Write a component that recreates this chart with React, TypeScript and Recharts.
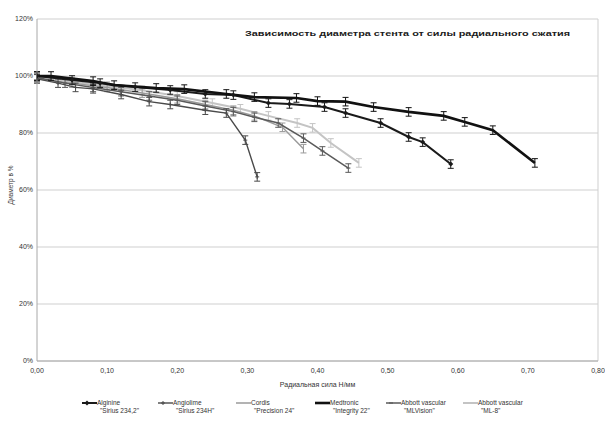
import React from 'react';
import { LineChart, Line, XAxis, YAxis, CartesianGrid, ErrorBar, Legend, ReferenceLine, Customized, Label } from 'recharts';

const chartTitle = 'Зависимость диаметра стента от силы радиального сжатия';
const xAxisTitle = 'Радиальная сила Н/мм';
const yAxisTitle = 'Диаметр в %';

const xTicks = [0, 0.1, 0.2, 0.3, 0.4, 0.5, 0.6, 0.7, 0.8];
const yTicks = [0, 20, 40, 60, 80, 100, 120];

const alginineX = [0, 0.05, 0.09, 0.14, 0.19, 0.24, 0.28, 0.33, 0.36, 0.41, 0.44, 0.49, 0.53, 0.55, 0.59];
const alginineY = [100, 98.6, 97.5, 96.1, 95.1, 93.7, 93.3, 90.5, 90.2, 89.1, 87, 83.5, 78.6, 76.8, 69.1];
const alginineErr = [1.5, 1.5, 1.5, 1.5, 1.5, 1.5, 1.5, 1.5, 1.5, 1.5, 1.5, 1.5, 1.5, 1.5, 1.5];

const angiolimeX = [0, 0.03, 0.055, 0.08, 0.12, 0.16, 0.19, 0.24, 0.27, 0.297, 0.314];
const angiolimeY = [99, 97.5, 96, 95.5, 93.5, 91, 90, 88, 87, 77.5, 64.6];
const angiolimeErr = [1.5, 1.5, 1.5, 1.5, 1.5, 1.5, 1.5, 1.5, 1.5, 1.5, 1.5];

const cordisX = [0, 0.05, 0.1, 0.15, 0.2, 0.24, 0.28, 0.31, 0.35, 0.38];
const cordisY = [99, 97.5, 96, 94, 92, 90, 88, 86, 82, 74.5];
const cordisErr = [1.5, 1.5, 1.5, 1.5, 1.5, 1.5, 1.5, 1.5, 1.5, 1.5];

const medtronicX = [0, 0.02, 0.08, 0.11, 0.17, 0.21, 0.27, 0.31, 0.37, 0.4, 0.44, 0.48, 0.53, 0.58, 0.61, 0.65, 0.71];
const medtronicY = [100, 100, 98.2, 96.8, 95.8, 95.4, 93.7, 92.6, 92.3, 91.2, 91, 89.1, 87.4, 86, 83.9, 81, 69.5];
const medtronicErr = [1.5, 1.5, 1.5, 1.5, 1.5, 1.5, 1.5, 1.5, 1.5, 1.5, 1.5, 1.5, 1.5, 1.5, 1.5, 1.5, 1.5];

const mlVisionX = [0, 0.04, 0.08, 0.12, 0.16, 0.2, 0.24, 0.28, 0.31, 0.344, 0.38, 0.407, 0.444];
const mlVisionY = [99.5, 97.5, 96, 94.5, 93, 91.5, 89.5, 87.5, 85.5, 83.5, 78.2, 73.7, 67.7];
const mlVisionErr = [1.5, 1.5, 1.5, 1.5, 1.5, 1.5, 1.5, 1.5, 1.5, 1.5, 1.5, 1.5, 1.5];

const ml8X = [0, 0.05, 0.1, 0.15, 0.2, 0.25, 0.29, 0.33, 0.371, 0.393, 0.419, 0.459];
const ml8Y = [100, 98, 96.5, 95, 93, 90.5, 88.5, 86, 83.5, 81.8, 76.5, 69.5];
const ml8Err = [1.5, 1.5, 1.5, 1.5, 1.5, 1.5, 1.5, 1.5, 1.5, 1.5, 1.5, 1.5];

const build = (xs: number[], ys: number[], es: number[]) => xs.map((x, i) => ({ x, y: ys[i], err: es[i] }));

type Series = { key: string; l1: string; l2: string; data: any[]; stroke: string; width: number; marker: 'diamond' | 'plus' | 'dash' | 'none' };

const series: Series[] = [
  { key: 'ml8', l1: 'Abbott vascular', l2: '"ML-8"', data: build(ml8X, ml8Y, ml8Err), stroke: '#c4c4c4', width: 2, marker: 'none' },
  { key: 'cordis', l1: 'Cordis', l2: '"Precision 24"', data: build(cordisX, cordisY, cordisErr), stroke: '#9a9a9a', width: 1.5, marker: 'none' },
  { key: 'mlvision', l1: 'Abbott vascular', l2: '"MLVision"', data: build(mlVisionX, mlVisionY, mlVisionErr), stroke: '#5a5a5a', width: 1.5, marker: 'dash' },
  { key: 'angiolime', l1: 'Angiolime', l2: '"Sirius 234H"', data: build(angiolimeX, angiolimeY, angiolimeErr), stroke: '#4a4a4a', width: 1.4, marker: 'plus' },
  { key: 'alginine', l1: 'Alginine', l2: '"Sirius 234,2"', data: build(alginineX, alginineY, alginineErr), stroke: '#1a1a1a', width: 2, marker: 'diamond' },
  { key: 'medtronic', l1: 'Medtronic', l2: '"Integrity 22"', data: build(medtronicX, medtronicY, medtronicErr), stroke: '#111111', width: 2.6, marker: 'none' },
];

const legendOrder = ['alginine', 'angiolime', 'cordis', 'medtronic', 'mlvision', 'ml8'];
const legendLeft = [82, 158, 236, 315, 386, 463];

const MarkerShape = ({ cx, cy, marker, color }: { cx: number; cy: number; marker: string; color: string }) => {
  if (marker === 'diamond') {
    return <path d={`M${cx},${cy - 2.5}L${cx + 2.5},${cy}L${cx},${cy + 2.5}L${cx - 2.5},${cy}Z`} fill={color} stroke="none" />;
  }
  if (marker === 'plus') {
    return <path d={`M${cx - 2},${cy}H${cx + 2}M${cx},${cy - 2}V${cy + 2}`} stroke={color} strokeWidth={1} fill="none" />;
  }
  if (marker === 'dash') {
    return <path d={`M${cx - 2},${cy}H${cx + 2}`} stroke={color} strokeWidth={1.2} fill="none" />;
  }
  return null;
};

const makeDot = (s: Series) => (props: any) => {
  const { cx, cy, index } = props;
  if (s.marker === 'none' || cx == null || cy == null) return <g key={`${s.key}-d-${index}`} />;
  return <g key={`${s.key}-d-${index}`}><MarkerShape cx={cx} cy={cy} marker={s.marker} color={s.stroke} /></g>;
};

const renderLegend = () => (
  <div style={{ position: 'relative', width: 605, height: 20, fontFamily: '"Liberation Sans", Arial, sans-serif' }}>
    {legendOrder.map((k, i) => {
      const s = series.find((q) => q.key === k)!;
      return (
        <div key={k} style={{ position: 'absolute', left: legendLeft[i], top: 0, display: 'flex', alignItems: 'flex-start' }}>
          <svg width={15} height={8} style={{ display: 'block', marginTop: 0 }}>
            <line x1={0} y1={4} x2={15} y2={4} stroke={s.stroke} strokeWidth={s.width} />
            <MarkerShape cx={5} cy={4} marker={s.marker} color={s.stroke} />
          </svg>
          <div style={{ fontSize: 6.5, lineHeight: '7.5px', color: '#333', whiteSpace: 'nowrap' }}>
            <div>{s.l1}</div>
            <div style={{ paddingLeft: 3 }}>{s.l2}</div>
          </div>
        </div>
      );
    })}
  </div>
);

const Title = () => (
  <text x={245} y={36} textLength={325} lengthAdjust="spacingAndGlyphs" fontSize={8} fontWeight="bold" fill="#1a1a1a" fontFamily='"Liberation Sans", Arial, sans-serif'>
    {chartTitle}
  </text>
);

export default function App() {
  return (
    <div style={{ position: 'absolute', left: 0, top: 0, width: 605, height: 428, background: '#fff', fontFamily: '"Liberation Sans", Arial, sans-serif' }}>
      <LineChart width={605} height={428} margin={{ top: 19, right: 7, left: 0, bottom: 39 }}>
        <CartesianGrid horizontal vertical={false} stroke="#cfcfcf" strokeWidth={1} />
        <XAxis
          type="number"
          dataKey="x"
          domain={[0, 0.8]}
          ticks={xTicks}
          allowDataOverflow
          tickFormatter={(v: number) => v.toFixed(2).replace('.', ',')}
          height={28}
          tickSize={0}
          tickMargin={7}
          axisLine={{ stroke: '#a8a8a8' }}
          tick={{ fontSize: 7, fill: '#333' }}
        >
          <Label value={xAxisTitle} position="insideBottom" offset={2} style={{ fontSize: 7, fill: '#333' }} />
        </XAxis>
        <YAxis
          type="number"
          dataKey="y"
          domain={[0, 120]}
          ticks={yTicks}
          tickFormatter={(v: number) => `${v}%`}
          width={37}
          tickSize={0}
          tickMargin={4}
          axisLine={{ stroke: '#a8a8a8' }}
          tick={{ fontSize: 7, fill: '#333' }}
        >
          <Label
            content={() => (
              <text x={11} y={185} transform="rotate(-90 11 185)" textAnchor="middle" dominantBaseline="middle" fontSize={6.5} fill="#333">
                {yAxisTitle}
              </text>
            )}
          />
        </YAxis>
        <ReferenceLine x={0.8} stroke="#cfcfcf" strokeWidth={1} ifOverflow="extendDomain" />
        {series.map((s) => (
          <Line
            key={s.key}
            data={s.data}
            dataKey="y"
            name={s.key}
            type="linear"
            stroke={s.stroke}
            strokeWidth={s.width}
            dot={makeDot(s)}
            activeDot={false}
            isAnimationActive={false}
          >
            <ErrorBar dataKey="err" width={3} strokeWidth={1} stroke={s.stroke} direction="y" />
          </Line>
        ))}
        <Legend layout="horizontal" verticalAlign="middle" align="center" wrapperStyle={{ top: 399, left: 0, width: 605, height: 20 }} content={renderLegend} />
        <Customized component={Title} />
      </LineChart>
    </div>
  );
}
